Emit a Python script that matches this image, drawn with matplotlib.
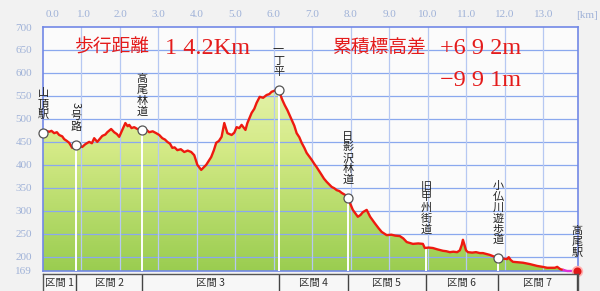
import matplotlib
matplotlib.use("Agg")
import matplotlib.pyplot as plt
import matplotlib.transforms as mtransforms
from matplotlib.colors import LinearSegmentedColormap
import numpy as np

plt.rcParams['font.family'] = ['Noto Sans CJK JP', 'DejaVu Sans']

# elevation profile (km, m)
dist_km = [0.00, 0.08, 0.16, 0.22, 0.29, 0.36, 0.42, 0.50, 0.55, 0.62, 0.68, 0.76, 0.86,
           0.94, 1.02, 1.10, 1.20, 1.27, 1.33, 1.41, 1.48, 1.54, 1.62, 1.67, 1.77, 1.85,
           1.92, 1.98, 2.06, 2.14, 2.20, 2.24, 2.30, 2.37, 2.45, 2.58, 2.66, 2.76, 2.85,
           2.94, 3.02, 3.10, 3.17, 3.23, 3.30, 3.36, 3.42, 3.49, 3.58, 3.67, 3.76, 3.85,
           3.93, 4.01, 4.11, 4.17, 4.24, 4.30, 4.37, 4.44, 4.50, 4.57, 4.64, 4.71, 4.79,
           4.90, 4.97, 5.03, 5.10, 5.16, 5.26, 5.31, 5.42, 5.49, 5.55, 5.63, 5.72, 5.81,
           5.88, 5.94, 6.07, 6.12, 6.22, 6.28, 6.35, 6.46, 6.53, 6.59, 6.66, 6.72, 6.79,
           6.85, 6.92, 6.98, 7.05, 7.11, 7.18, 7.24, 7.30, 7.37, 7.44, 7.50, 7.57, 7.63,
           7.70, 7.76, 7.84, 7.92, 8.00, 8.05, 8.12, 8.18, 8.25, 8.31, 8.41, 8.50, 8.62,
           8.72, 8.80, 8.93, 9.05, 9.15, 9.27, 9.36, 9.45, 9.53, 9.61, 9.75, 9.87, 9.92,
           10.02, 10.13, 10.25, 10.39, 10.48, 10.57, 10.66, 10.76, 10.83, 10.88, 10.91,
           10.95, 10.99, 11.04, 11.15, 11.25, 11.35, 11.43, 11.52, 11.61, 11.70, 11.82,
           11.95, 12.06, 12.10, 12.15, 12.21, 12.35, 12.47, 12.65, 12.84, 12.98, 13.10,
           13.20, 13.30, 13.36, 13.44, 13.53]
elev_m = [469, 474, 472, 474, 469, 471, 465, 462, 456, 452, 448, 437, 443,
          441, 439, 445, 450, 447, 458, 450, 457, 463, 466, 471, 478, 471,
          467, 461, 476, 491, 484, 487, 480, 482, 478, 476, 478, 471, 473,
          469, 465, 458, 455, 450, 446, 437, 438, 432, 434, 428, 431, 428,
          421, 400, 389, 394, 400, 408, 417, 432, 448, 452, 461, 491, 469,
          465, 470, 482, 480, 487, 476, 491, 513, 522, 535, 548, 546, 552,
          554, 559, 563, 563, 541, 530, 519, 498, 485, 469, 460, 448, 437,
          426, 418, 411, 402, 395, 386, 378, 370, 363, 357, 352, 349, 345,
          343, 339, 335, 328, 312, 302, 294, 287, 291, 297, 302, 287, 273,
          262, 254, 247, 248, 246, 245, 240, 232, 230, 228, 229, 228, 219,
          220, 219, 216, 213, 212, 210, 211, 210, 214, 226, 237,
          226, 214, 210, 209, 210, 208, 208, 206, 204, 201, 197,
          196, 195, 199, 193, 189, 188, 187, 184, 180, 178, 176,
          176, 176, 178, 173, 171]
# last stretch drawn in magenta
end_km = [13.53, 13.62, 13.75, 13.88]
end_m = [171, 169, 169, 169]

wp_names = ["山頂駅", "3号路", "高尾林道", "一丁平", "日影沢林道", "旧甲州街道", "小仏川遊歩道", "高尾駅"]
wp_km = [0.0, 0.86, 2.58, 6.12, 7.92, 9.95, 11.82, 13.88]
wp_m = [469, 443, 476, 563, 328, 219, 197, 169]
section_labels = ["区間 1", "区間 2", "区間 3", "区間 4", "区間 5", "区間 6", "区間 7"]

x_ticks = list(range(0, 14))
y_ticks = [169, 200, 250, 300, 350, 400, 450, 500, 550, 600, 650, 700]

W, H = 600, 291
fig = plt.figure(figsize=(6, 2.91), dpi=100)
fig.patch.set_facecolor('#f2f2f2')
ax = fig.add_axes([43 / W, 20 / H, 535 / W, 244 / H])
ax.set_facecolor('#fbfbfb')
ax.set_xlim(0, 13.9)
ax.set_ylim(169, 700)

# gradient fill under the profile
all_km = dist_km + end_km[1:]
all_m = elev_m + end_m[1:]
poly = ax.fill_between(all_km, all_m, 169, color='none', lw=0)
cmap = LinearSegmentedColormap.from_list('grn', ['#9acd50', '#d4ea86', '#f2f9cc'])
grad = np.linspace(0, 1, 256).reshape(-1, 1)
im = ax.imshow(grad, extent=[0, 13.9, 169, 700], origin='lower', aspect='auto',
               cmap=cmap, zorder=1)
im.set_clip_path(poly.get_paths()[0], transform=ax.transData)

# grid
for yv in y_ticks[1:-1]:
    ax.axhline(yv, color='#8aa8ee', lw=0.9, zorder=2)
for xv in x_ticks[1:]:
    ax.axvline(xv, color='#b6c8f2', lw=0.9, zorder=2)
for s in ax.spines.values():
    s.set_color('#7288e6')
    s.set_linewidth(1.2)

# waypoint drop lines
for k, m in zip(wp_km[1:-1], wp_m[1:-1]):
    ax.plot([k, k], [169, m], color='white', lw=1.4, zorder=3)

ax.plot(dist_km, elev_m, color='#ee1a10', lw=1.7, zorder=4, solid_joinstyle='round')
ax.plot(end_km, end_m, color='#e030d8', lw=1.7, zorder=4, clip_on=False)

# waypoint markers
for i, (k, m) in enumerate(zip(wp_km, wp_m)):
    if i == len(wp_km) - 1:
        ax.plot(k, m, 'o', ms=7, mfc='#e01818', mec='#ffb0b0', mew=1.2, zorder=6, clip_on=False)
    elif i != 5:
        ax.plot(k, m, 'o', ms=6.5, mfc='white', mec='#555555', mew=0.9, zorder=6, clip_on=False)
    chars = list(wp_names[i])
    for j, ch in enumerate(reversed(chars)):
        ax.annotate(ch, xy=(k, m), xytext=(0, 13 + j * 7.8), textcoords='offset points',
                    ha='center', va='center', fontsize=8, color='#222222',
                    rotation=-90 if ch.isdigit() else 0, annotation_clip=False, zorder=7)

# tick labels
ax.set_yticks(y_ticks)
ax.set_yticklabels([str(v) for v in y_ticks])
ax.set_xticks(x_ticks)
ax.set_xticklabels(['%.1f' % v for v in x_ticks])
ax.xaxis.tick_top()
ax.tick_params(length=0, labelsize=8, labelcolor='#9fb2d8')
ax.tick_params(axis='x', pad=6)
ax.tick_params(axis='y', pad=8)
for lab in ax.get_xticklabels() + ax.get_yticklabels():
    lab.set_fontfamily(['Liberation Serif', 'DejaVu Serif'])
shifts = [9, 2]
for lab, dx in zip(ax.get_xticklabels()[:2], shifts):
    lab.set_transform(lab.get_transform() + mtransforms.ScaledTranslation(dx / 100, 0, fig.dpi_scale_trans))
fig.text(587 / W, 1 - 15 / H, '[km]', ha='center', va='center', fontsize=8,
         color='#9fb2d8', family=['Liberation Serif'])

# section bar
ax2 = fig.add_axes([43 / W, 0, 535 / W, 17 / H])
ax2.set_facecolor('#f7f7f7')
ax2.set_xlim(0, 13.9)
ax2.set_ylim(0, 1)
ax2.set_xticks([])
ax2.set_yticks([])
for s in ax2.spines.values():
    s.set_color('#555555')
    s.set_linewidth(1)
ax2.spines['bottom'].set_visible(False)
for k in wp_km[1:]:
    ax2.axvline(k, color='#444444', lw=1)
for i, lab in enumerate(section_labels):
    ax2.text((wp_km[i] + wp_km[i + 1]) / 2, 0.45, lab, ha='center', va='center',
             fontsize=7.5, color='#333333')

# headline texts
red = '#e41b1b'
fig.text(75 / W, 1 - 47 / H, '歩行距離', ha='left', va='center', fontsize=13.5, color=red)
fig.text(165 / W, 1 - 48 / H, '1 4.2Km', ha='left', va='center', fontsize=17.5, color=red,
         family=['Liberation Serif'])
fig.text(332 / W, 1 - 47 / H, '累積標高差', ha='left', va='center', fontsize=13.5, color=red)
fig.text(440 / W, 1 - 48 / H, '+6 9 2m', ha='left', va='center', fontsize=17.5, color=red,
         family=['Liberation Serif'])
fig.text(440 / W, 1 - 80 / H, '−9 9 1m', ha='left', va='center', fontsize=17.5, color=red,
         family=['Liberation Serif'])

plt.savefig('out.png', dpi=100, facecolor=fig.get_facecolor())
